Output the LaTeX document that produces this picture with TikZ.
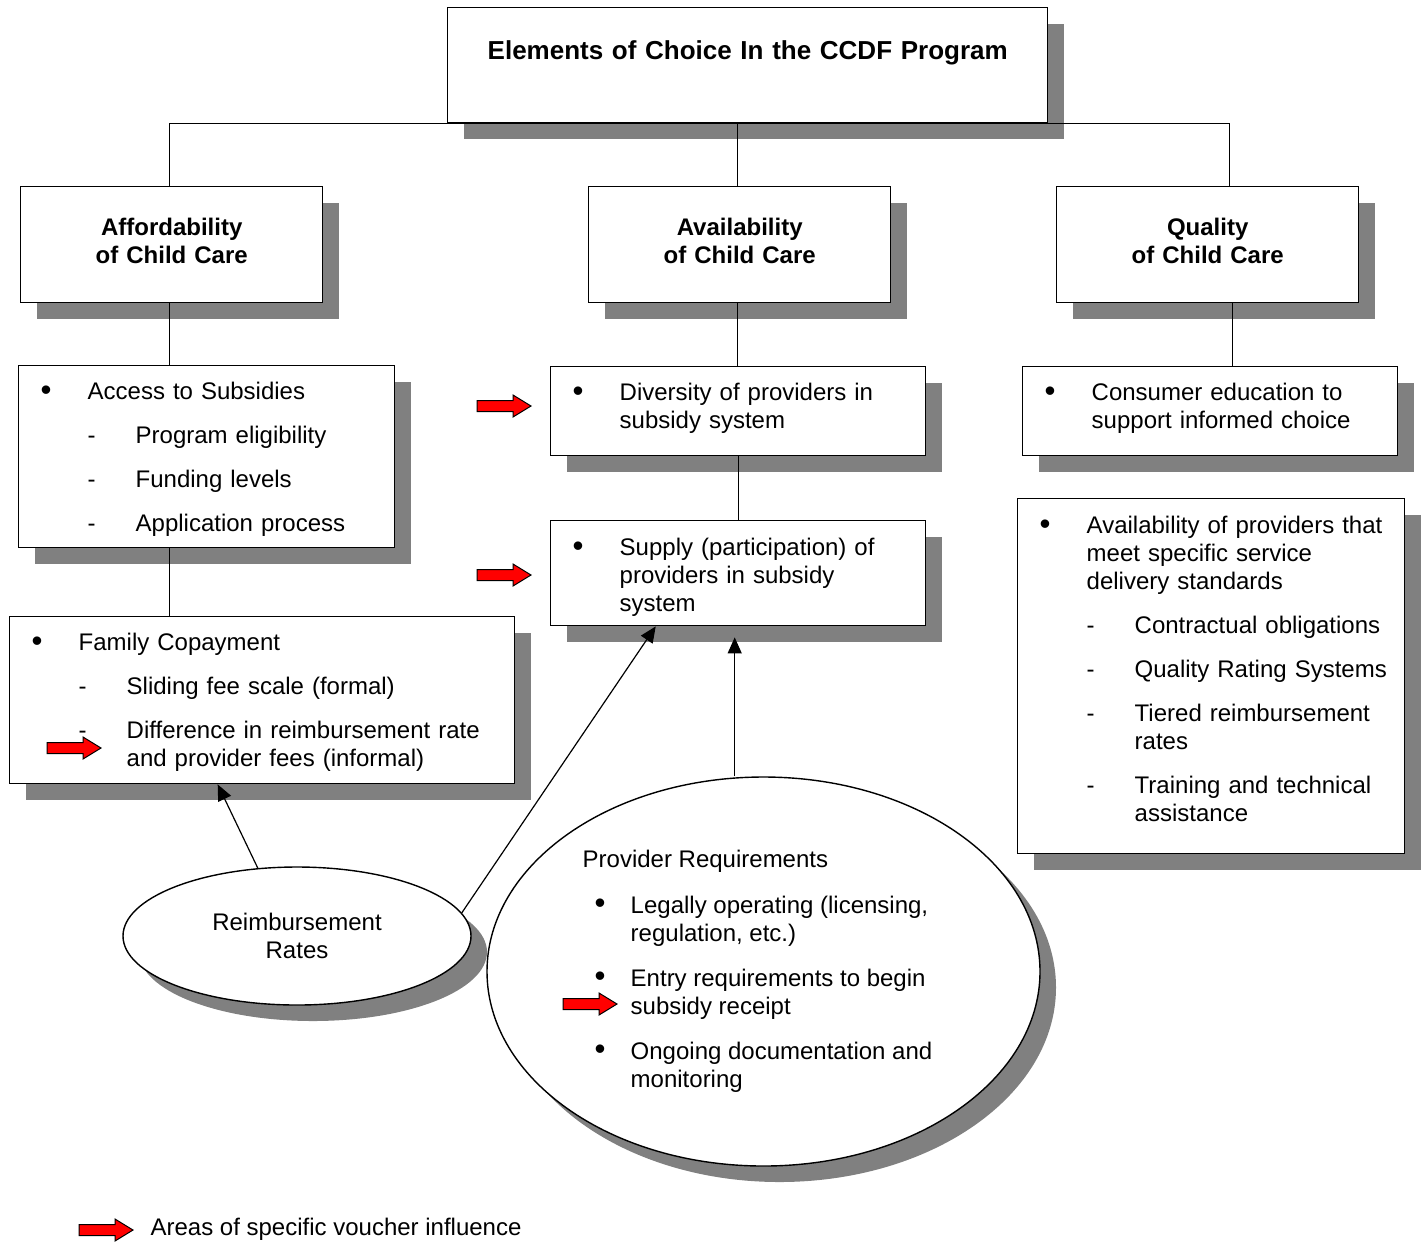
\documentclass[tikz,border=0pt]{standalone}
\usepackage{fontspec}
\setmainfont{Liberation Sans}
\usepackage{array}
\usepackage{graphicx}
\usepackage{tikz}
\usetikzlibrary{arrows.meta,shadows,shapes.geometric}
\setlength{\parindent}{0pt}

\newcommand{\boxfont}{\fontsize{12}{14}\selectfont}
\newcommand{\bul}{\raisebox{-0.3pt}{\scalebox{1.3}{\textbullet}}}
\newcommand{\bitem}[1]{\bul & \multicolumn{2}{@{}l@{}}{\begin{tabular}[t]{@{}l@{}}#1\end{tabular}}}
\newcommand{\ditem}[1]{& - & \begin{tabular}[t]{@{}l@{}}#1\end{tabular}}
\newcommand{\itemgap}{\\\noalign{\vskip8pt}}
\newenvironment{itembox}{\begin{tabular}[t]{@{}p{23.5pt}@{}p{24pt}@{}l@{}}}{\end{tabular}}

\tikzset{
  shadebox/.style={draw, line width=0.7pt, fill=white,
    drop shadow={shadow xshift=8pt, shadow yshift=-8pt, fill=black!50, opacity=1}},
  headbox/.style={shadebox, anchor=north west, inner sep=0pt, align=center, font=\boxfont\bfseries},
  catbox/.style={headbox, text width=151pt, text height=24.5pt, text depth=33.5pt},
  listbox/.style={shadebox, anchor=north west, inner xsep=11pt, inner ysep=0pt, align=left, font=\boxfont},
  ovalbox/.style={shadebox, ellipse, inner sep=0pt, font=\boxfont},
  tip/.style={-{Triangle[length=8pt,width=7pt]}},
  voucher/.pic={\draw[fill=red, line width=0.5pt] (0,-2.75pt) -- (18pt,-2.75pt) -- (18pt,-5.5pt)
    -- (27pt,0) -- (18pt,5.5pt) -- (18pt,2.75pt) -- (0,2.75pt) -- cycle;}
}

\begin{document}
\begin{tikzpicture}[x=0.5pt, y=-0.5pt, line width=0.6pt]
  \useasboundingbox (0,0) rectangle (1422,1243);

  \node[headbox, font=\fontsize{13}{15}\selectfont\bfseries, text width=300pt, text height=26pt, text depth=31.5pt]
    (title) at (447,7) {Elements of Choice In the CCDF Program};

  \node[catbox] (afford) at (20,186) {\begin{tabular}[t]{@{}c@{}}Affordability\\of Child Care\end{tabular}};
  \node[catbox] (avail) at (588,186) {\begin{tabular}[t]{@{}c@{}}Availability\\of Child Care\end{tabular}};
  \node[catbox] (quality) at (1056,186) {\begin{tabular}[t]{@{}c@{}}Quality\\of Child Care\end{tabular}};

  \node[listbox, text width=166pt, text height=17pt, text depth=74pt] (access) at (18,365)
    {\begin{itembox}
      \bitem{Access to Subsidies}\itemgap
      \ditem{Program eligibility}\itemgap
      \ditem{Funding levels}\itemgap
      \ditem{Application process}
    \end{itembox}};
  \node[listbox, text width=165.5pt, text height=17pt, text depth=27.5pt] (diversity) at (550,366)
    {\begin{itembox}
      \bitem{Diversity of providers in\\subsidy system}
    \end{itembox}};
  \node[listbox, text width=165.5pt, text height=17pt, text depth=27.5pt] (consumer) at (1022,366)
    {\begin{itembox}
      \bitem{Consumer education to\\support informed choice}
    \end{itembox}};
  \node[listbox, text width=165.5pt, text height=17.5pt, text depth=35pt] (supply) at (550,520)
    {\begin{itembox}
      \bitem{Supply (participation) of\\providers in subsidy\\system}
    \end{itembox}};
  \node[listbox, text width=230.5pt, text height=17pt, text depth=66.5pt] (family) at (9,616)
    {\begin{itembox}
      \bitem{Family Copayment}\itemgap
      \ditem{Sliding fee scale (formal)}\itemgap
      \ditem{Difference in reimbursement rate\\and provider fees (informal)}
    \end{itembox}};
  \node[listbox, text width=171.5pt, text height=17.5pt, text depth=160pt] (standards) at (1017,498)
    {\begin{itembox}
      \bitem{Availability of providers that\\meet specific service\\delivery standards}\itemgap
      \ditem{Contractual obligations}\itemgap
      \ditem{Quality Rating Systems}\itemgap
      \ditem{Tiered reimbursement\\rates}\itemgap
      \ditem{Training and technical\\assistance}
    \end{itembox}};

  \node[ovalbox, minimum width=174pt, minimum height=69pt, align=center] (rates) at (297,936)
    {Reimbursement\\Rates};
  \node[ovalbox, minimum width=276.5pt, minimum height=194.5pt] (reqs) at (763.5,971.5)
    {\begin{tabular}{@{}p{24pt}@{}l@{\hspace{6pt}}}
      \multicolumn{2}{@{}l@{\hspace{6pt}}}{Provider Requirements}\\\noalign{\vskip9pt}
      \hspace*{6pt}\bul & \begin{tabular}[t]{@{}l@{}}Legally operating (licensing,\\regulation, etc.)\end{tabular}\\\noalign{\vskip8.5pt}
      \hspace*{6pt}\bul & \begin{tabular}[t]{@{}l@{}}Entry requirements to begin\\subsidy receipt\end{tabular}\\\noalign{\vskip8.5pt}
      \hspace*{6pt}\bul & \begin{tabular}[t]{@{}l@{}}Ongoing documentation and\\monitoring\end{tabular}
    \end{tabular}};

  \draw ([xshift=-1pt]afford.north) |- (title.south) -| ([xshift=11pt]quality.north);
  \draw ([xshift=-1pt]avail.north) -- ([xshift=-1pt]avail.north |- title.south);
  \draw ([xshift=-1pt]afford.south) -- ([xshift=-1pt]afford.south |- access.north);
  \draw ([xshift=-1pt]avail.south) -- ([xshift=-1pt]avail.south |- diversity.north);
  \draw ([xshift=12.5pt]quality.south) -- ([xshift=12.5pt]quality.south |- consumer.north);
  \draw ([xshift=-18.5pt]access.south) -- ([xshift=-18.5pt]access.south |- family.north);
  \draw (diversity.south) -- (diversity.south |- supply.north);

  \draw[tip] (rates.120) -- ([xshift=-22.25pt]family.south);
  \draw[tip] (rates.8) -- ([xshift=-41.25pt]supply.south);
  \draw[tip] ([xshift=-1.75pt]supply.south |- reqs.north) -- ([xshift=-1.75pt,yshift=-5.5pt]supply.south);

  \pic at (477,406) {voucher};
  \pic at (477,575) {voucher};
  \pic at (47,748) {voucher};
  \pic at (563,1004) {voucher};
  \pic at (79,1230) {voucher};
  \node[anchor=west, inner sep=0pt, font=\boxfont] (legend) at (150,1229) {Areas of specific voucher influence};
\end{tikzpicture}
\end{document}
